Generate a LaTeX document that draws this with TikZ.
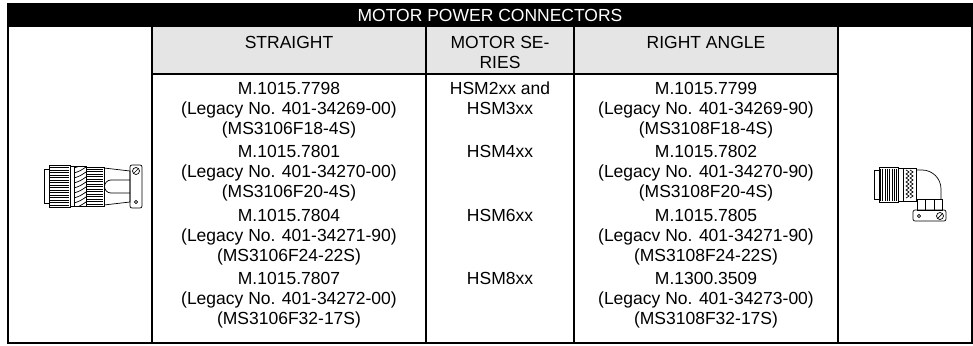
\documentclass[tikz,border=0pt]{standalone}
\usepackage{fontspec}
\setmainfont{Liberation Sans}

\begin{document}
\begin{tikzpicture}[x=1pt,y=-1pt,
  cell/.style={anchor=north,align=center,inner sep=0pt,font=\fontsize{17.5}{20}\selectfont},
  rule/.style={line width=1.6pt},
  plug/.style={line width=0.7pt},
  knurl/.style={line width=1pt}]
  \useasboundingbox (0,0) rectangle (973,345);

  \fill[black!10] (152,27) rectangle (838,74);
  \fill[black] (8,4) rectangle (972,27);
  \draw[rule] (8,4) rectangle (972,343);
  \draw[rule] (152,27) -- (152,343);
  \draw[rule] (426,27) -- (426,343);
  \draw[rule] (574,27) -- (574,343);
  \draw[rule] (838,27) -- (838,343);
  \draw[rule] (152,74) -- (838,74);

  \node[cell,anchor=center,text=white] (title) at (490,15.5) {MOTOR POWER CONNECTORS};
  \node[cell] (hstraight) at (289,35.75) {STRAIGHT};
  \node[cell] (hseries) at (500,35.75) {MOTOR SE-\\RIES};
  \node[cell] (hangle) at (706,35.75) {RIGHT ANGLE};

  \node[cell] (s1) at (289,81.75) {M.1015.7798\\(Legacy No. 401-34269-00)\\(MS3106F18-4S)};
  \node[cell] (m1) at (500,81.75) {HSM2xx and\\HSM3xx};
  \node[cell] (r1) at (706,81.75) {M.1015.7799\\(Legacy No. 401-34269-90)\\(MS3108F18-4S)};

  \node[cell] (s2) at (289,145.25) {M.1015.7801\\(Legacy No. 401-34270-00)\\(MS3106F20-4S)};
  \node[cell] (m2) at (500,145.25) {HSM4xx};
  \node[cell] (r2) at (706,145.25) {M.1015.7802\\(Legacy No. 401-34270-90)\\(MS3108F20-4S)};

  \node[cell] (s3) at (289,208.75) {M.1015.7804\\(Legacy No. 401-34271-90)\\(MS3106F24-22S)};
  \node[cell] (m3) at (500,208.75) {HSM6xx};
  \node[cell] (r3) at (706,208.75) {M.1015.7805\\(Legacv No. 401-34271-90)\\(MS3108F24-22S)};

  \node[cell] (s4) at (289,272.25) {M.1015.7807\\(Legacy No. 401-34272-00)\\(MS3106F32-17S)};
  \node[cell] (m4) at (500,272.25) {HSM8xx};
  \node[cell] (r4) at (706,272.25) {M.1300.3509\\(Legacy No. 401-34273-00)\\(MS3108F32-17S)};

  % straight plug
  \begin{scope}[plug]
    \draw (44,169) rectangle (49,203);
    \draw (49,165) rectangle (70,207);
    \foreach \i in {0,...,15} \draw[knurl] (50,167.5+2.5*\i) -- (69,167.5+2.5*\i);
    \draw (70,166) rectangle (74,206);
    \draw (74,166) rectangle (86,206);
    \begin{scope}
      \clip (74,166) rectangle (86,206);
      \foreach \i in {0,...,8} \draw (74,168+5*\i) .. controls (80,166+5*\i) .. (86,162+5*\i);
    \end{scope}
    \draw (86,167) rectangle (104,206);
    \foreach \i in {0,...,14} \draw[knurl] (87,169+2.5*\i) -- (103,169+2.5*\i);
    \draw (104,168) -- (130,171) -- (130,202) -- (104,205);
    \draw (130,180) -- (111,180) arc[start angle=270,end angle=90,radius=6.5] -- (130,193);
    \draw[rounded corners=2pt] (130,165) rectangle (142,208);
    \draw (136,171) circle (3.5);
    \draw (133.5,173.5) -- (138.5,168.5);
    \draw (136,202) circle (1.6);
  \end{scope}

  % right angle plug
  \begin{scope}[plug]
    \draw (874,170) rectangle (879,199);
    \draw (879,167) rectangle (898,202);
    \foreach \i in {0,...,7} \draw[knurl] (880.5+2.3*\i,168.5) -- (880.5+2.3*\i,200.5);
    \draw (898,168) rectangle (903,201);
    \draw (903,168) rectangle (916,201);
    \draw (906,170) \foreach \i in {0,...,6} { -- (909,172+4*\i) -- (906,174+4*\i) };
    \draw (910,170) \foreach \i in {0,...,6} { -- (913,172+4*\i) -- (910,174+4*\i) };
    \draw (916,170) -- (922,170) arc[start angle=270,end angle=360,radius=19] -- (941,199);
    \draw (917,199) rectangle (942,210);
    \draw (925,199) -- (925,210);
    \draw (934,199) -- (934,210);
    \draw[rounded corners=2pt] (913,210) rectangle (946,221);
    \draw (919,216) circle (1.6);
    \draw (940,216) circle (3.5);
    \draw (937.5,218.5) -- (942.5,213.5);
  \end{scope}
\end{tikzpicture}
\end{document}
